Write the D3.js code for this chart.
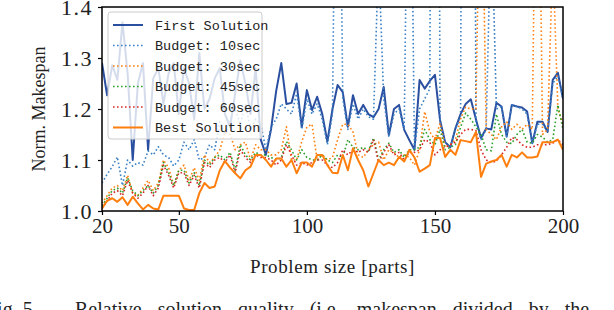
<!DOCTYPE html>
<html>
<head>
<meta charset="utf-8">
<script src="https://cdn.jsdelivr.net/npm/d3@7"></script>
<style>
  body { margin: 0; background: #fff; }
  svg text { font-family: "Liberation Serif", "DejaVu Serif", serif; fill: #222; }
  .legend text { font-family: "Liberation Mono", monospace; }
</style>
</head>
<body>
<div id="chart"></div>
<script>
// problem sizes 20..200 step 2
const sizes = d3.range(20, 201, 2);

const firstSolution = [1.29,1.227,1.286,1.257,1.37,1.27,1.10,1.25,1.29,1.12,1.26,1.28,1.21,1.27,1.29,1.19,1.28,1.25,1.18,1.31,
  1.20,1.22,1.26,1.28,1.19,1.165,1.23,1.295,1.25,1.19,1.28,1.14,1.11,1.16,1.235,1.29,1.21,1.212,1.25,1.165,
  1.237,1.198,1.224,1.19,1.136,1.20,1.247,1.233,1.165,1.227,1.19,1.208,1.19,1.184,1.20,1.243,1.149,1.20,1.208,1.159,
  1.139,1.12,1.257,1.24,1.255,1.267,1.178,1.135,1.125,1.162,1.19,1.21,1.219,1.18,1.143,1.162,1.16,1.212,1.205,1.146,
  1.208,1.205,1.203,1.195,1.133,1.175,1.175,1.155,1.257,1.271,1.22];

const budget10 = [1.055,1.072,1.087,1.106,1.05,1.10,1.088,1.095,1.09,1.118,1.11,1.126,1.11,1.105,1.088,1.10,1.135,1.12,1.14,1.10,
  1.105,1.13,1.12,1.175,1.15,1.18,1.20,1.17,1.21,1.16,1.18,1.17,1.12,1.165,1.18,1.21,1.20,1.19,1.23,1.16,
  1.22,1.19,1.21,1.18,1.13,1.19,2.2,1.22,1.16,1.21,1.18,1.20,1.185,1.18,1.5,1.22,1.145,1.19,1.20,1.16,
  2.0,1.12,1.20,1.22,1.24,4.0,1.17,1.135,1.125,1.16,1.185,4.0,4.0,1.175,1.14,1.16,1.6,1.20,1.205,1.146,
  1.208,1.205,1.20,1.19,1.133,1.17,1.17,1.155,1.25,1.265,1.22];

const budget30 = [1.015,1.03,1.045,1.05,1.04,1.07,1.035,1.03,1.045,1.06,1.04,1.055,1.10,1.085,1.05,1.08,1.09,1.06,1.085,1.06,
  1.11,1.095,1.105,1.12,1.155,1.15,1.12,1.13,1.135,1.10,1.13,1.12,1.12,1.11,1.11,1.12,1.165,1.10,1.10,1.136,
  1.165,1.17,1.10,1.11,1.10,1.105,1.14,1.17,1.17,1.155,1.11,1.105,1.12,1.13,1.135,1.10,1.12,1.115,1.105,1.11,
  1.105,1.09,1.12,1.195,1.155,1.14,1.172,1.125,1.13,1.14,1.18,1.204,1.20,1.20,1.8,1.16,1.15,1.14,1.165,1.175,
  1.16,1.17,1.16,1.17,1.16,2.0,1.15,1.16,1.5,1.20,1.17];

const budget45 = [1.01,1.025,1.04,1.045,1.035,1.065,1.04,1.03,1.04,1.05,1.035,1.05,1.095,1.075,1.05,1.08,1.08,1.055,1.075,1.05,
  1.10,1.09,1.105,1.11,1.10,1.115,1.08,1.13,1.11,1.10,1.115,1.11,1.11,1.105,1.10,1.105,1.136,1.12,1.10,1.12,
  1.105,1.10,1.10,1.11,1.10,1.095,1.11,1.105,1.14,1.125,1.12,1.125,1.118,1.143,1.10,1.12,1.133,1.115,1.12,1.105,
  1.12,1.12,1.125,1.16,1.14,1.13,1.16,1.12,1.125,1.13,1.164,1.192,1.18,1.165,1.15,1.12,1.118,1.19,1.15,1.135,
  1.132,1.15,1.16,1.135,1.133,1.15,1.145,1.135,1.14,1.208,1.16];

const budget60 = [1.005,1.02,1.035,1.04,1.03,1.06,1.035,1.025,1.035,1.05,1.03,1.045,1.09,1.07,1.045,1.075,1.075,1.05,1.07,1.045,
  1.095,1.085,1.10,1.105,1.095,1.11,1.075,1.12,1.105,1.095,1.11,1.105,1.105,1.10,1.09,1.10,1.13,1.11,1.09,1.095,
  1.09,1.095,1.10,1.10,1.09,1.085,1.095,1.12,1.11,1.12,1.115,1.12,1.115,1.14,1.095,1.115,1.13,1.11,1.115,1.10,
  1.115,1.115,1.12,1.14,1.135,1.11,1.12,1.125,1.13,1.135,1.15,1.16,1.16,1.158,1.12,1.10,1.095,1.098,1.11,1.125,
  1.144,1.14,1.13,1.125,1.125,1.13,1.13,1.13,1.133,1.14,1.13];

const bestSolution = [1.005,1.02,1.025,1.018,1.027,1.012,1.028,1.015,1.003,1.012,1.005,1.003,1.03,1.03,1.03,1.03,1.005,1.002,1.002,1.035,
  1.055,1.045,1.048,1.08,1.098,1.085,1.074,1.064,1.08,1.087,1.11,1.11,1.10,1.087,1.103,1.103,1.087,1.10,1.074,1.095,
  1.095,1.087,1.11,1.11,1.09,1.075,1.074,1.11,1.08,1.123,1.10,1.08,1.048,1.074,1.10,1.09,1.095,1.09,1.106,1.097,
  1.12,1.105,1.077,1.083,1.09,1.143,1.143,1.106,1.12,1.11,1.139,1.137,1.135,1.155,1.067,1.093,1.097,1.10,1.11,1.087,
  1.11,1.105,1.115,1.105,1.105,1.107,1.135,1.135,1.135,1.14,1.12];

const seriesNames = ["First Solution", "Budget: 10sec", "Budget: 30sec", "Budget: 45sec", "Budget: 60sec", "Best Solution"];
const seriesData = [firstSolution, budget10, budget30, budget45, budget60, bestSolution];
const seriesColors = ["#2a4fa0", "#3a80c5", "#ff7f0e", "#2ca02c", "#d62728", "#ff7f0e"];
const seriesDotted = [false, true, true, true, true, false];

const xTicks = [20, 50, 100, 150, 200];
const yTicks = [1.0, 1.1, 1.2, 1.3, 1.4];

const W = 614, H = 310;
const margin = { top: 7, right: 51, bottom: 99, left: 102 };
const width = W - margin.left - margin.right;
const height = H - margin.top - margin.bottom;

const svg = d3.select("#chart").append("svg")
  .attr("width", W).attr("height", H);

const g = svg.append("g")
  .attr("transform", "translate(" + margin.left + "," + margin.top + ")");

const x = d3.scaleLinear().domain([20, 200]).range([0, width]);
const y = d3.scaleLinear().domain([1.0, 1.4]).range([height, 0]);

g.append("clipPath").attr("id", "clip")
  .append("rect").attr("width", width).attr("height", height);

const line = d3.line()
  .x((d, i) => x(sizes[i]))
  .y(d => y(d));

const lines = g.append("g").attr("clip-path", "url(#clip)");
seriesData.forEach((s, k) => {
  lines.append("path")
    .datum(s)
    .attr("fill", "none")
    .attr("stroke", seriesColors[k])
    .attr("stroke-width", seriesDotted[k] ? 1.6 : 2)
    .attr("stroke-dasharray", seriesDotted[k] ? "1.6,2.4" : null)
    .attr("stroke-linejoin", "round")
    .attr("d", line);
});

// axes
const xAxis = g.append("g")
  .attr("transform", "translate(0," + height + ")")
  .call(d3.axisBottom(x).tickValues(xTicks).tickSize(4).tickPadding(3).tickFormat(d3.format("d")));
const yAxis = g.append("g")
  .call(d3.axisLeft(y).tickValues(yTicks).tickSize(4).tickPadding(5).tickFormat(d3.format(".1f")));

[xAxis, yAxis].forEach(a => {
  a.select(".domain").remove();
  a.selectAll("line").attr("stroke", "#000").attr("stroke-width", 1.2);
  a.selectAll("text").attr("font-family", "Liberation Serif").attr("font-size", 21).attr("fill", "#222");
});
yAxis.selectAll("text").attr("dy", "0.35em").attr("font-size", 22).attr("letter-spacing", 1.5);

g.append("rect")
  .attr("width", width).attr("height", height)
  .attr("fill", "none").attr("stroke", "#000").attr("stroke-width", 1.5);

// legend
const legend = g.append("g").attr("class", "legend").attr("transform", "translate(6,5)");
legend.append("rect")
  .attr("width", 154).attr("height", 127)
  .attr("rx", 3)
  .attr("fill", "#fff").attr("fill-opacity", 0.8)
  .attr("stroke", "#ccc").attr("stroke-width", 1);
seriesNames.forEach((name, k) => {
  const yy = 13 + k * 20.5;
  legend.append("line")
    .attr("x1", 5).attr("x2", 35).attr("y1", yy).attr("y2", yy)
    .attr("stroke", seriesColors[k])
    .attr("stroke-width", seriesDotted[k] ? 1.6 : 2)
    .attr("stroke-dasharray", seriesDotted[k] ? "1.6,2.4" : null);
  legend.append("text")
    .attr("x", 47).attr("y", yy).attr("dy", "0.35em")
    .attr("font-size", 13.5)
    .text(name);
});

// axis titles
svg.append("text")
  .attr("x", margin.left + width / 2).attr("y", 273)
  .attr("text-anchor", "middle").attr("font-size", 19).attr("letter-spacing", 0.6)
  .text("Problem size [parts]");
svg.append("text")
  .attr("transform", "translate(45," + (margin.top + height / 2) + ") rotate(-90)")
  .attr("text-anchor", "middle").attr("font-size", 18)
  .text("Norm. Makespan");

// caption (cut by the image edge)
svg.append("text")
  .attr("x", -14).attr("y", 316).attr("font-size", 20)
  .text("Fig. 5.");
svg.append("text")
  .attr("x", 75).attr("y", 316).attr("font-size", 20)
  .attr("word-spacing", 11)
  .text("Relative solution quality (i.e. makespan divided by the");
</script>
</body>
</html>
